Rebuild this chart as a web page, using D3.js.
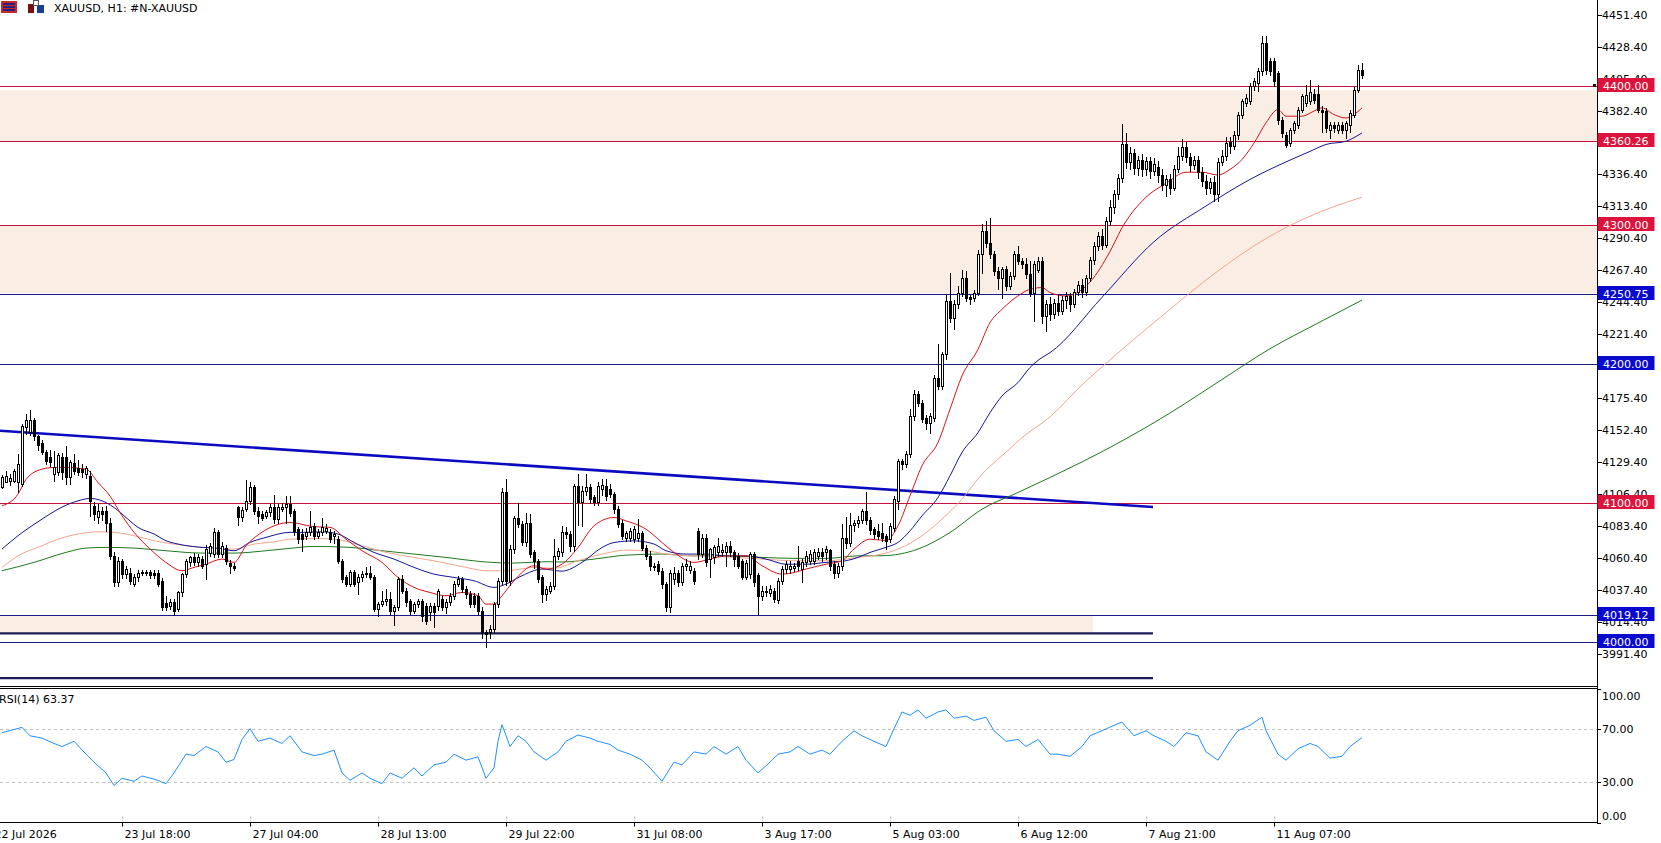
<!DOCTYPE html>
<html><head><meta charset="utf-8">
<script src="https://cdn.jsdelivr.net/npm/d3@7"></script>
<style>html,body{margin:0;padding:0;background:#fff;overflow:hidden}text{font-family:"DejaVu Sans",sans-serif;font-size:11px}</style>
</head><body>
<svg id="c" width="1661" height="843"></svg>
<script>
// ---------------- DATA ----------------
const opens=[4111.2,4115.3,4115.8,4116,4114.8,4113.6,4155,4151,4160,4148,4143,4136.5,4132.8,4120.8,4122,4133,4133,4118.4,4129,4125,4124.5,4121,4119.6,4098,4090,4094,4094,4086,4062,4043,4058,4049,4050,4041.7,4046.5,4050,4050.5,4050.5,4050,4050,4044,4028,4026,4029,4024,4035.7,4049,4057.5,4061,4057.5,4060,4056,4064,4063.3,4078.9,4063.3,4068,4057,4055,4097,4090,4095.6,4101.6,4111.2,4094.4,4092,4090.9,4093.2,4096.8,4088.5,4096,4097,4099.5,4094,4081,4078,4076.4,4078.9,4083.7,4076.4,4078.9,4080,4078.9,4076,4074,4058.5,4046.5,4041.7,4050.1,4042.9,4046.5,4048.9,4049.7,4046.5,4023.7,4027.3,4029.7,4031,4022.6,4025,4045.3,4037,4029.7,4022.6,4027.3,4029.7,4026,4021.3,4026,4026,4031,4025,4029,4033,4041.7,4045.3,4038,4034.5,4033,4033,4022.6,4007,4007,4009.4,4027.3,4044,4107.6,4044,4066.9,4089.6,4085,4071.7,4086,4064.5,4058.5,4046.5,4034.5,4037,4040,4062,4064.5,4079,4078,4069.3,4112,4100.4,4108.8,4111.2,4104,4100.4,4110,4112.4,4110,4106.4,4095.6,4086,4075.2,4075.2,4074,4075.2,4078.8,4068,4062,4055,4056,4051.3,4041.7,4024.9,4045,4050,4043,4054.9,4052,4051.3,4080,4063.3,4075.2,4059.7,4061,4064.5,4065,4065,4069.3,4065,4062,4058,4047,4049,4063,4048,4033.3,4036,4035,4037,4030,4044.1,4052.5,4052.5,4053,4058.5,4052.5,4057.3,4058.5,4058.5,4061.6,4064.5,4064.5,4066,4056,4050,4054.9,4075.2,4071,4084,4085.5,4088,4094.4,4087.6,4081,4080,4078.8,4076.4,4074,4082.4,4101.6,4130.4,4128,4135.2,4162.7,4178.3,4172.3,4161.5,4157.9,4161.5,4190.3,4184.3,4207,4245.4,4233.4,4243,4251.4,4262.2,4248,4247.8,4251.4,4278.9,4295.7,4287.3,4278.9,4267,4262.2,4268.1,4256.2,4263.4,4278.9,4274.1,4271.7,4264.6,4251.4,4268,4274.1,4234.6,4243,4236,4244,4238,4246,4249,4243,4252,4257,4252,4262,4275,4285,4292,4286,4303,4313,4322,4334,4358,4345,4352,4341,4347,4340,4346,4339,4342,4336,4329,4333,4327,4340,4350,4356,4349,4343,4347,4338,4332,4327,4331,4322,4345,4350,4359.5,4357,4364.5,4379.5,4388,4389,4399.9,4402.3,4410.7,4431,4417.9,4417.9,4409.5,4375.9,4365.1,4359.1,4368.7,4372.3,4383.1,4387.9,4389.1,4394,4394,4383,4382,4368.7,4372.3,4368.7,4372.3,4368.7,4372.3,4379.5,4397.5,4411.9];
const highs=[4120.1,4123.2,4121,4124.4,4135,4157,4164,4167,4161,4149,4145,4138,4138,4137.6,4136,4136,4141,4131,4135,4131,4128,4127,4123,4101,4099,4097,4098,4089,4065,4061,4060,4055,4053,4049,4052,4052,4052,4052,4052,4052,4046,4033,4031,4031,4037,4050,4060,4062,4064,4063,4062,4070,4071,4082,4080.5,4072,4070,4059,4057,4098,4097,4116.5,4115,4113,4097,4094,4095,4099,4106,4099,4100,4105,4105,4096,4083,4081,4082,4094.5,4086,4081,4089.6,4085,4081,4080,4076,4060,4048,4052,4052,4049,4051,4054,4055,4048,4029,4036.9,4038,4036,4027,4047,4048,4039,4031,4029,4031,4031,4028,4028,4028,4038.5,4033,4031,4035,4044,4047.7,4047,4040,4037,4035,4035,4025,4009,4012,4029,4046,4111,4117.2,4070,4091,4100,4087,4093,4092,4066,4060,4048,4040,4043,4074,4068,4083.6,4083,4080,4113.6,4121,4112,4120.8,4114,4106,4115,4117.2,4117,4114,4108,4098,4088,4080,4082,4083.6,4088.4,4080,4070,4065.7,4057,4058,4053,4043,4052,4054,4052,4057,4060,4058,4053,4082,4078,4078,4068,4070,4075,4070.5,4072,4072.8,4066,4064,4060,4059,4065,4065,4050,4040,4040,4041,4039,4046,4055,4058.5,4058,4057,4069.3,4060,4065.7,4066,4067,4068,4068,4069.3,4067,4058,4057,4084.8,4090,4093,4088,4091,4096,4107.6,4090,4083,4084.8,4086,4078,4086,4105,4131.6,4132,4137.6,4167.5,4181,4180.7,4174,4163,4165,4192,4214.2,4209,4250,4265.7,4246,4256,4268,4267,4250,4253,4282,4300.5,4302.9,4305.3,4281,4270,4270,4270.5,4266,4281,4284.8,4276,4276,4274,4274,4277,4277,4246,4248,4247,4250,4249,4252,4251,4254,4260,4261,4264,4277,4288,4295,4297,4306,4318,4325,4337,4373,4366,4356,4355,4350,4351,4349,4349,4348,4346,4340,4336,4337,4343,4356,4362,4360,4352,4350,4350,4342,4336,4334,4335,4348,4354,4363,4363,4368,4381,4391,4394,4402,4406,4413,4435.8,4435.8,4420,4420,4411,4378,4367,4370,4375,4385,4394,4401,4404.6,4398,4401,4386,4384,4374,4374,4374,4374,4375,4383,4399,4415.5,4416.7];
const lows=[4110.5,4114.8,4113,4114.8,4107.6,4112,4150,4149,4145,4138,4135,4128,4127,4116,4120,4117,4113.6,4114,4121,4120,4119,4118,4091,4088,4086,4088,4080,4060,4040.5,4040,4046,4046,4042,4040,4044,4048,4048.5,4046,4046,4040,4023,4023,4024,4019.5,4022,4033,4047,4055,4055.5,4055,4053,4045,4062,4061,4061,4061,4056,4050,4052,4084,4087,4094,4099,4092,4086,4088,4089,4091,4086,4086,4094,4086,4091,4077,4071,4065.7,4074,4077,4074,4074.5,4077,4078.5,4072,4071,4057,4043,4040,4040,4040,4034.5,4044,4047,4045,4022,4019,4026,4027,4020,4012,4023,4035,4026,4020,4021,4025,4015,4013,4016,4010.6,4023,4023,4021,4027,4031,4040,4036,4032,4025,4025,4020,4003,3996.5,4003,4007,4025,4041,4041,4041,4064,4083,4070,4069,4061,4053,4043,4028.5,4030,4035,4038,4060,4062,4075,4065.7,4065.7,4084,4083.6,4106,4100,4098.5,4098.5,4106,4102,4104,4093,4083,4074,4073,4073,4072,4073,4066,4060,4052,4052,4049,4039,4022,4021.3,4042,4040,4041,4052,4050,4042,4060,4061,4055,4047,4057,4062,4062,4055,4062,4055,4053,4045,4045,4046,4040,4020,4030,4033,4033,4029,4028,4042,4050,4050,4051,4052,4043,4055,4056,4056,4060,4058,4060,4052,4046,4046.5,4052,4068,4069,4080,4083,4086,4085,4077.6,4075,4074,4073,4066.9,4072,4080,4095.6,4124.5,4126,4133,4160,4170,4158,4153.1,4150.7,4159,4182,4182,4203.4,4230,4225,4240,4249,4245,4243,4245.5,4250,4265.7,4284,4276,4264,4253.8,4247.8,4253,4254,4261,4272,4269,4262,4249,4231,4266,4229.8,4223.8,4232,4233,4235,4236,4240,4238,4241,4250,4248,4250,4260,4272,4282,4283,4284,4300,4309,4319,4331,4341,4340,4337,4336,4335,4336,4334,4336,4331,4325,4321,4322,4325,4338,4347,4345,4339,4340,4334,4328,4322,4323,4317,4317,4343,4347,4352,4355,4362,4377,4386,4387,4397,4396.3,4408,4409,4408,4400,4373,4363,4356,4357,4366,4370,4381,4386,4387,4388,4381,4367,4367,4362.7,4367,4366,4366,4362.7,4367,4378,4396,4406];
const closes=[4118.4,4119.1,4118.2,4123.2,4128,4155.5,4160,4160,4148,4142,4137,4130.4,4129.2,4125.6,4134.4,4122,4118.4,4129.2,4123,4122,4122,4125,4101.6,4092,4094,4092,4086,4062,4043,4058.5,4049,4052.5,4044,4046.5,4050,4050.5,4050,4048,4048,4042,4025,4025,4029,4022,4035.7,4048.9,4058.5,4061,4057.5,4061,4055,4066.9,4069.3,4078.9,4063.3,4069.3,4058,4055,4053,4090,4095,4101.6,4111.2,4094.4,4091,4089.6,4093.2,4096.8,4088.5,4097,4097.5,4099.5,4093,4080,4074,4074,4078.9,4082.5,4076.4,4078.9,4082.5,4082,4074,4078,4058.5,4045.3,4041.7,4050.1,4041.7,4046.5,4048.9,4049.7,4046.5,4023.7,4027.3,4029.7,4031,4022.6,4025,4045.3,4037,4028.5,4022.6,4027.3,4029.7,4019,4015.4,4026,4021.3,4036.9,4025,4028.5,4033,4041.7,4045.3,4038,4034.5,4027.3,4027.3,4022.6,4007,4006,4009.4,4027.3,4044,4107.6,4044,4066.9,4089.6,4084.8,4072,4086,4063.3,4058.5,4045.3,4034.5,4038,4040,4062,4065.7,4078.9,4077.6,4069.3,4112.4,4100.4,4108.8,4111.2,4102.8,4100.4,4112.4,4113,4105,4106.4,4095.6,4084.8,4076.4,4078.8,4080,4081.2,4078.8,4068,4062,4054.9,4054,4051.3,4041.7,4024.9,4050,4050,4043,4054.9,4056,4055,4044.1,4063.3,4075.2,4057.3,4066.9,4068.1,4069.3,4066.5,4069.3,4064.5,4060,4055,4047,4057,4063,4043,4033.3,4037,4037,4038,4031,4044.1,4052.5,4056,4055,4055,4054.9,4057.3,4062,4063,4064.5,4064.9,4062,4066.9,4055,4050,4054.9,4075.2,4071,4084,4085.5,4088,4094.4,4087.6,4080.4,4077.6,4076.5,4075.2,4072.8,4083.6,4102.8,4130.4,4128,4135.2,4162.7,4178.3,4172.3,4160.3,4157.9,4162.7,4190.3,4184.3,4207,4245.4,4233.4,4243,4251.4,4262.2,4247.8,4247,4251.4,4278.9,4295.7,4287.3,4278.9,4267,4262.2,4268.1,4256.2,4263.4,4278.9,4274.1,4271.7,4264.6,4251.4,4271.7,4274,4234.6,4243,4236,4244,4238,4246,4249,4243,4252,4257,4252,4262,4275,4285,4292,4286,4303,4313,4322,4334,4358,4345,4352,4341,4347,4340,4346,4339,4344,4336,4329,4333,4327,4340,4350,4356,4349,4343,4347,4338,4332,4327,4331,4322,4345,4350,4359,4357,4365,4379.5,4389,4391.5,4399.9,4403.5,4410.7,4431,4411.9,4410.7,4403.5,4375.9,4366.3,4357.9,4368.7,4373.5,4383.1,4392.7,4393.9,4396,4390,4383,4381.5,4369.9,4372.3,4369.9,4372.3,4368.7,4373.5,4380.7,4397.5,4411.9,4408.3];

// moving averages (bar index, price)
const redIdx=[0,4,6,10,13,16,21,24,27,30,33,37,41,45,48,51,55,58,61,65,68,72,78,82,86,90,95,99,103,107,111,115,119,121,123,125,128,133,136,140,144,148,153,156,161,165,168,173,177,181,186,190,195,198,201,206,210,213,217,221,224,227,230,234,237,240,244,247,250,254,257,260,262,266,272,277,280,286,291,296,300,304,307,310,313,316,319,321,325,328,330,333,336,338,340];
const redVal=[4098,4106.4,4117,4124.4,4125.6,4125.6,4124.4,4114.8,4105,4090.9,4079,4067,4057.3,4051.3,4053.7,4056,4059.7,4057.3,4069.3,4079,4083.6,4086,4083,4082.5,4074,4065.7,4057.3,4046.5,4039.3,4035.7,4033.3,4035.7,4033.3,4027.3,4027.3,4033.3,4044.1,4054.9,4052.5,4056,4068,4083.6,4089.6,4087.2,4081.2,4071.6,4064.5,4057.3,4059.7,4062,4062,4054.9,4048.9,4050,4052.5,4056,4058.5,4066.9,4074,4073,4083.6,4105.2,4126.8,4143.6,4167.5,4191.5,4210.6,4229.8,4239.4,4249,4253.8,4255,4251.4,4249,4259,4281,4298,4320,4330,4338,4338,4336,4340,4347.2,4359,4373.5,4383.1,4378.3,4378.3,4382,4384.3,4379.5,4377,4379.5,4384.3];
const blueIdx=[0,4,10,14,19,22,25,28,31,34,38,41,44,50,54,58,62,66,72,75,80,84,88,93,98,103,108,113,118,123,126,130,135,140,145,150,153,158,163,166,171,176,181,186,191,196,201,206,211,214,217,221,224,227,230,234,237,240,244,247,250,254,257,260,262,275,288,301,312,323,327,331,336,340];
const blueVal=[4066.9,4076.5,4088.4,4095.6,4101.6,4103.3,4101.6,4096.8,4089.6,4082.5,4077.7,4072.9,4070.5,4068.1,4067.6,4065.7,4071.7,4075.3,4078.9,4078.9,4079.3,4077.7,4071.7,4064.5,4059.7,4053.7,4048.9,4046.5,4044.1,4039.3,4041.7,4047.7,4052.5,4051,4057.3,4068,4071.6,4072.8,4070.5,4065.7,4063.3,4063.3,4062,4062,4059.7,4056,4056,4057.3,4058.5,4060.9,4064.5,4068.1,4071.7,4080,4090.8,4104,4119.6,4136.4,4150.7,4165,4177,4186.7,4197.5,4204.7,4208.2,4248,4288,4313.7,4332.8,4348,4353,4358,4360.3,4366.3];
const salmonIdx=[0,4,10,14,19,24,28,33,38,43,50,58,63,68,72,78,83,90,96,103,110,116,121,126,133,138,144,150,156,161,166,173,181,190,198,206,214,220,225,230,235,240,245,250,255,262,270,277,291,304,317,330,340];
const salmonVal=[4053.7,4062,4069.3,4074,4077.7,4079.3,4078.9,4076.5,4072.9,4070.5,4068.1,4066.9,4070.5,4072.1,4074,4074.5,4074,4069.3,4064.5,4060.9,4057.3,4053.7,4051.3,4051.3,4053.7,4053,4058.5,4063.3,4066.1,4065.7,4063.3,4062,4061.3,4059.7,4058.5,4058.5,4060.9,4063.3,4068.1,4076.5,4088.4,4102.8,4120.8,4134,4147,4162,4185,4203,4237,4267,4292,4310,4320];
const greenIdx=[0,8,16,21,26,33,41,50,58,66,72,78,87,95,103,111,120,128,136,140,148,156,165,173,181,190,198,206,214,220,229,237,245,254,262,277,291,304,317,330,340];
const greenVal=[4051.3,4057.3,4064.5,4067.6,4068.1,4067.6,4065.7,4064,4064,4065.7,4067.4,4068.8,4068.1,4065.7,4063.3,4060.9,4057.8,4056.8,4057.8,4057.6,4059.7,4062.5,4063.3,4062,4062,4060.9,4060.2,4060.2,4062,4062.1,4066.9,4078.8,4095.6,4107.6,4118.4,4140,4163,4187,4211,4231,4246];

// RSI(14)
const rsiIdx=[0,2,5,7,10,13,15,18,21,23,26,28,30,33,35,38,41,43,46,48,51,54,56,58,60,62,64,67,70,72,75,78,80,83,85,87,90,92,95,97,100,103,105,108,111,113,116,119,121,123,124,125,127,129,131,133,136,139,141,144,147,149,152,154,157,160,162,165,168,170,173,176,178,181,184,186,189,192,194,197,199,202,205,207,210,213,215,218,221,223,225,227,229,231,234,236,238,241,243,246,248,251,254,256,259,262,264,267,270,272,275,278,280,283,286,288,291,293,296,299,301,304,307,309,312,315,316,319,321,324,327,329,332,335,337,340];
const rsiVal=[67,68.6,71,64.7,63,59,56.7,60.6,51,45,37,27.6,33,30.8,34.7,32.4,29,37,51,50,56.7,52.7,45,47,62,70,60.6,63,59,64.7,52.7,50,51,54,37,31.5,37,33,29,37,33,40.8,34.7,43,45,51,46.5,49,33,40.8,60.6,73,56.7,64.7,60.6,52.7,46.5,52.7,60.6,65.3,63,60.6,58.3,54,51,46.5,40.8,30.8,45,43,52.7,51,56.7,51,56.7,46.5,37,45,51,52.7,56.7,51,54,51,60.6,68.4,64.7,60.6,56.7,70,82.5,80,84,77.8,82.5,84,77.8,79.4,76.2,78.6,68.5,60.6,62,56.7,62,51,51,49.4,56.7,64.7,68.5,72.5,74.9,64.7,68.5,64.7,60.6,56.7,67,64.7,52.7,46.5,60.6,68.5,72.5,78.6,68.5,51,46.5,55,59,56.7,48,49.4,56.7,63.37];
const rsiLevels=[70,30];
const rsiTicks=[100,70,30,0];
const rsiLast="63.37";

// horizontal levels and zones
const levelPrices=[4400,4360.26,4300,4250.75,4200,4100,4019.12,4000];
const levelKinds=["red","red","red","blue","blue","red","blue","blue"];
const zoneTop=[4397,4300,4019.12];
const zoneBottom=[4360.26,4250.75,4006.3];
const zoneEndBar=[400,400,272.75];
// trend lines: start/end bar and price
const trendBar1=[-0.5,-0.5,-0.5];
const trendP1=[4152.0,4006.3,3974.1];
const trendBar2=[287.75,287.75,287.75];
const trendP2=[4097.1,4006.3,3974.1];

const priceTicks=[4451.40,4428.40,4405.40,4382.40,4359.40,4336.40,4313.40,4290.40,4267.40,4244.40,4221.40,4198.40,4175.40,4152.40,4129.40,4106.40,4083.40,4060.40,4037.40,4014.40,3991.40];
const timeLabels=["22 Jul 2026","23 Jul 18:00","27 Jul 04:00","28 Jul 13:00","29 Jul 22:00","31 Jul 08:00","3 Aug 17:00","5 Aug 03:00","6 Aug 12:00","7 Aug 21:00","11 Aug 07:00"];
const timeLabelBars=[-2.5,30,62,94,126,158,190,222,254,286,318];
const title="XAUUSD, H1:  #N-XAUUSD";

// ---------------- LAYOUT ----------------
const AX=1597, MAIN_B=686.5, RSI_T=688.5, RSI_B=822.5;
const x=d3.scaleLinear().domain([0,340]).range([2,1362]);
const y=d3.scaleLinear().domain([3991.4,4451.4]).range([654,14.6]);
const yr=d3.scaleLinear().domain([0,100]).range([822.5,688.5]);
const COL={red:"#C8103C",blue:"#1A1A8A",redBox:"#DC143C",blueBox:"#0A0ACD"};

const svg=d3.select("#c");
const defs=svg.append("defs");
defs.append("clipPath").attr("id","mc").append("rect").attr("x",0).attr("y",0).attr("width",AX).attr("height",MAIN_B);
defs.append("clipPath").attr("id","rc").append("rect").attr("x",0).attr("y",RSI_T).attr("width",AX).attr("height",RSI_B-RSI_T);

const gm=svg.append("g").attr("clip-path","url(#mc)");

// zones
gm.selectAll("rect.zone").data(d3.range(zoneTop.length)).join("rect")
  .attr("x",x(-1)).attr("y",i=>y(zoneTop[i]))
  .attr("width",i=>x(zoneEndBar[i])-x(-1)).attr("height",i=>y(zoneBottom[i])-y(zoneTop[i]))
  .attr("fill","#FAEEE4");

// levels
gm.selectAll("line.lvl").data(d3.range(levelPrices.length)).join("line")
  .attr("x1",0).attr("x2",AX)
  .attr("y1",i=>Math.round(y(levelPrices[i]))+0.5).attr("y2",i=>Math.round(y(levelPrices[i]))+0.5)
  .attr("stroke",i=>COL[levelKinds[i]]).attr("stroke-width",1);

// trend lines
gm.selectAll("line.tr").data(d3.range(trendBar1.length)).join("line")
  .attr("x1",i=>x(trendBar1[i])).attr("y1",i=>y(trendP1[i]))
  .attr("x2",i=>x(trendBar2[i])).attr("y2",i=>y(trendP2[i]))
  .attr("stroke",i=>i===0?"#0A0AC0":"#1C1C5A").attr("stroke-width",i=>i===0?2.6:2.2);

// moving averages
const maLine=d3.line().x(d=>x(d[0])).y(d=>y(d[1])).curve(d3.curveMonotoneX);
[[greenIdx,greenVal,"#1F7A1F"],[salmonIdx,salmonVal,"#F2A58E"],[blueIdx,blueVal,"#16169A"],[redIdx,redVal,"#D8141C"]]
.forEach(([ix,vv,c])=>{
  gm.append("path").attr("d",maLine(d3.zip(ix,vv))).attr("fill","none").attr("stroke",c).attr("stroke-width",1);
});

// candles
const bars=d3.range(closes.length).map(i=>({i,o:opens[i],h:highs[i],l:lows[i],c:closes[i]}));
const gc=gm.append("g").attr("shape-rendering","crispEdges");
gc.selectAll("line").data(bars).join("line")
  .attr("x1",d=>Math.round(x(d.i))+0.5).attr("x2",d=>Math.round(x(d.i))+0.5)
  .attr("y1",d=>Math.round(y(d.h))).attr("y2",d=>Math.round(y(d.l))+1)
  .attr("stroke","#000").attr("stroke-width",1);
gc.selectAll("rect").data(bars).join("rect")
  .each(function(d){
    const cx=Math.round(x(d.i));
    const yt=Math.round(y(Math.max(d.o,d.c))), yb=Math.round(y(Math.min(d.o,d.c)));
    const s=d3.select(this);
    if(d.c>=d.o){
      s.attr("x",cx-0.5).attr("y",yt+0.5).attr("width",2).attr("height",Math.max(yb-yt,1))
       .attr("fill","#fff").attr("stroke","#000").attr("stroke-width",1);
    } else {
      s.attr("x",cx-1).attr("y",yt).attr("width",3).attr("height",Math.max(yb-yt,1)+1).attr("fill","#000");
    }
  });

// ---------------- RSI ----------------
const gr=svg.append("g").attr("clip-path","url(#rc)");
gr.selectAll("line.lv").data(rsiLevels).join("line")
  .attr("x1",0).attr("x2",AX).attr("y1",d=>Math.round(yr(d))+0.5).attr("y2",d=>Math.round(yr(d))+0.5)
  .attr("stroke","#C0C0C0").attr("stroke-dasharray","3,3");
gr.append("path").attr("d",d3.line().x(d=>x(d[0])).y(d=>yr(d[1]))(d3.zip(rsiIdx,rsiVal)))
  .attr("fill","none").attr("stroke","#1E90FF").attr("stroke-width",1);
svg.append("text").attr("x",-1).attr("y",703).text("RSI(14) "+rsiLast);

// ---------------- FRAMES ----------------
const fr=svg.append("g").attr("stroke","#000").attr("stroke-width",1).attr("shape-rendering","crispEdges");
fr.append("line").attr("x1",AX+0.5).attr("x2",AX+0.5).attr("y1",0).attr("y2",RSI_B);
fr.append("line").attr("x1",0).attr("x2",AX+0.5).attr("y1",MAIN_B).attr("y2",MAIN_B);
fr.append("line").attr("x1",0).attr("x2",AX+0.5).attr("y1",RSI_T).attr("y2",RSI_T);
fr.append("line").attr("x1",0).attr("x2",AX+0.5).attr("y1",RSI_B).attr("y2",RSI_B);

// price axis
const pa=svg.append("g");
pa.selectAll("line").data(priceTicks).join("line")
  .attr("x1",AX).attr("x2",AX+5).attr("y1",d=>Math.round(y(d))+0.5).attr("y2",d=>Math.round(y(d))+0.5)
  .attr("stroke","#000").attr("shape-rendering","crispEdges");
pa.selectAll("text").data(priceTicks).join("text")
  .attr("x",AX+5).attr("y",d=>y(d)+4).text(d=>d.toFixed(2));

// level boxes
const lb=svg.append("g");
d3.range(levelPrices.length).forEach(i=>{
  const yy=Math.round(y(levelPrices[i]));
  lb.append("rect").attr("x",AX+0.5).attr("y",yy-8).attr("width",57).attr("height",14)
    .attr("fill",levelKinds[i]==="red"?COL.redBox:COL.blueBox);
  lb.append("text").attr("x",AX+6).attr("y",yy+3.5).attr("fill","#fff").text(levelPrices[i].toFixed(2));
});
lb.append("rect").attr("x",AX-4).attr("y",Math.round(y(levelPrices[0]))-2).attr("width",3).attr("height",3).attr("fill","#300");

// rsi axis
const ra=svg.append("g");
ra.selectAll("line").data(rsiTicks).join("line")
  .attr("x1",AX).attr("x2",AX+4).attr("y1",d=>Math.round(yr(d))+0.5).attr("y2",d=>Math.round(yr(d))+0.5)
  .attr("stroke","#000").attr("shape-rendering","crispEdges");
ra.selectAll("text").data(rsiTicks).join("text")
  .attr("x",AX+5).attr("y",d=>yr(d)+4+(d===100?7:d===0?-7:0)).text(d=>d.toFixed(2));

// time axis
const ta=svg.append("g");
timeLabelBars.forEach((b,k)=>{
  const xx=Math.round(x(b))+0.5;
  ta.append("line").attr("x1",xx).attr("x2",xx).attr("y1",RSI_B).attr("y2",RSI_B+4).attr("stroke","#000");
  ta.append("line").attr("x1",xx).attr("x2",xx).attr("y1",RSI_B-6).attr("y2",RSI_B-3).attr("stroke","#bbb");
  ta.append("text").attr("x",xx+2).attr("y",838).text(timeLabels[k]);
});

// title with icons
const ic=svg.append("g").attr("shape-rendering","crispEdges");
ic.append("rect").attr("x",1).attr("y",1).attr("width",16).attr("height",12).attr("fill","#C8282D");
[3,6,9].forEach(v=>ic.append("rect").attr("x",3).attr("y",v).attr("width",12).attr("height",2).attr("fill","#23237E"));
ic.append("rect").attr("x",28).attr("y",4).attr("width",6).attr("height",9).attr("fill","#7A1010");
ic.append("rect").attr("x",37).attr("y",5).attr("width",7).attr("height",8).attr("fill","#1A3D9A");
ic.append("rect").attr("x",33).attr("y",0).attr("width",5).attr("height",5).attr("fill","#fff").attr("stroke","#555");
svg.append("text").attr("x",54).attr("y",12).text(title);
</script>
</body></html>
